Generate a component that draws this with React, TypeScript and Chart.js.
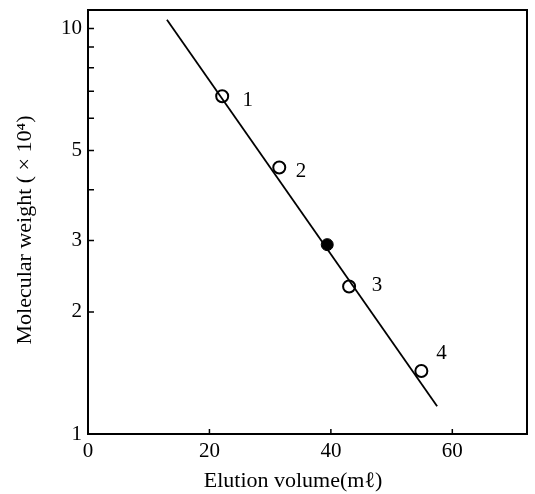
import React, { useEffect, useRef } from "react";
import { Chart, registerables } from "chart.js";

Chart.register(...registerables);

// Standards (open circles)
const standardX = [22.1, 31.5, 43.0, 54.9];
const standardY = [6.8, 4.54, 2.31, 1.43];
const standardLabels = ["1", "2", "3", "4"];
// Label anchor positions (data coordinates)
const labelX = [26.3, 35.1, 47.6, 58.2];
const labelY = [6.64, 4.44, 2.33, 1.58];
// Sample (filled circle)
const sampleX = [39.4];
const sampleY = [2.93];
// Calibration line end points
const lineX = [13.0, 57.5];
const lineY = [10.5, 1.17];
// Axis ticks
const xTicks = [0, 20, 40, 60];
const yTicks = [1, 2, 3, 4, 5, 6, 7, 8, 9, 10];
const yLabeled = [1, 2, 3, 5, 10];
const xTitle = "Elution volume(mℓ)";
const yTitle = "Molecular weight ( × 10⁴)";

const FONT = "'Liberation Serif', 'Times New Roman', serif";

export default function App() {
  const ref = useRef<HTMLCanvasElement | null>(null);
  useEffect(() => {
    if (!ref.current) return;
    const framePlugin = {
      id: "frame",
      afterDraw(chart: any) {
        const { ctx, chartArea: a, scales } = chart;
        ctx.save();
        ctx.strokeStyle = "#000";
        ctx.lineWidth = 2;
        ctx.strokeRect(a.left, a.top, a.right - a.left, a.bottom - a.top);
        ctx.lineWidth = 1.5;
        ctx.beginPath();
        for (const v of yTicks) {
          const y = scales.y.getPixelForValue(v);
          ctx.moveTo(a.left, y);
          ctx.lineTo(a.left + 6, y);
        }
        for (const v of xTicks) {
          if (v === 0) continue;
          const x = scales.x.getPixelForValue(v);
          ctx.moveTo(x, a.bottom);
          ctx.lineTo(x, a.bottom - 5);
        }
        ctx.stroke();
        ctx.fillStyle = "#000";
        ctx.font = `21px ${FONT}`;
        ctx.textAlign = "center";
        ctx.textBaseline = "middle";
        standardLabels.forEach((t, i) => {
          ctx.fillText(t, scales.x.getPixelForValue(labelX[i]), scales.y.getPixelForValue(labelY[i]));
        });
        // axis titles
        ctx.font = `22px ${FONT}`;
        ctx.fillText(xTitle, a.left + 205, a.bottom + 47);
        ctx.translate(25, (a.top + a.bottom) / 2 + 8);
        ctx.rotate(-Math.PI / 2);
        ctx.fillText(yTitle, 0, 0);
        ctx.restore();
      },
    };
    const chart = new Chart(ref.current, {
      type: "scatter",
      data: {
        datasets: [
          {
            data: lineX.map((x, i) => ({ x, y: lineY[i] })),
            showLine: true,
            borderColor: "#000",
            borderWidth: 1.8,
            pointRadius: 0,
          },
          {
            data: standardX.map((x, i) => ({ x, y: standardY[i] })),
            pointRadius: 6,
            pointBackgroundColor: "#fff",
            pointBorderColor: "#000",
            pointBorderWidth: 2,
          },
          {
            data: sampleX.map((x, i) => ({ x, y: sampleY[i] })),
            pointRadius: 6,
            pointBackgroundColor: "#000",
            pointBorderColor: "#000",
            pointBorderWidth: 1,
          },
        ],
      },
      options: {
        responsive: false,
        animation: false,
        layout: { padding: { left: 0, top: 10, right: 8, bottom: 0 } },
        plugins: { legend: { display: false }, tooltip: { enabled: false } },
        scales: {
          x: {
            type: "linear",
            min: 0,
            max: 72.3,
            afterBuildTicks: (s: any) => {
              s.ticks = xTicks.map((v) => ({ value: v }));
            },
            afterFit: (s: any) => {
              s.height = 60;
              s.paddingLeft = 0;
              s.paddingRight = 0;
            },
            grid: { display: false, drawTicks: false },
            border: { display: false },
            ticks: {
              color: "#000",
              font: { family: FONT, size: 21 },
              padding: 5,
              maxRotation: 0,
            },
          },
          y: {
            type: "logarithmic",
            min: 1,
            max: 11.1,
            afterBuildTicks: (s: any) => {
              s.ticks = yTicks.map((v) => ({ value: v }));
            },
            afterFit: (s: any) => {
              s.width = 88;
              s.paddingTop = 0;
              s.paddingBottom = 0;
            },
            grid: { display: false, drawTicks: false },
            border: { display: false },
            ticks: {
              color: "#000",
              font: { family: FONT, size: 21 },
              padding: 6,
              autoSkip: false,
              callback: (v: any) => (yLabeled.includes(Number(v)) ? String(v) : ""),
            },
          },
        },
      },
      plugins: [framePlugin],
    });
    return () => chart.destroy();
  }, []);
  return (
    <div style={{ position: "absolute", left: 0, top: 0, width: 535, height: 494, background: "#fff" }}>
      <canvas ref={ref} width={535} height={494} />
    </div>
  );
}
